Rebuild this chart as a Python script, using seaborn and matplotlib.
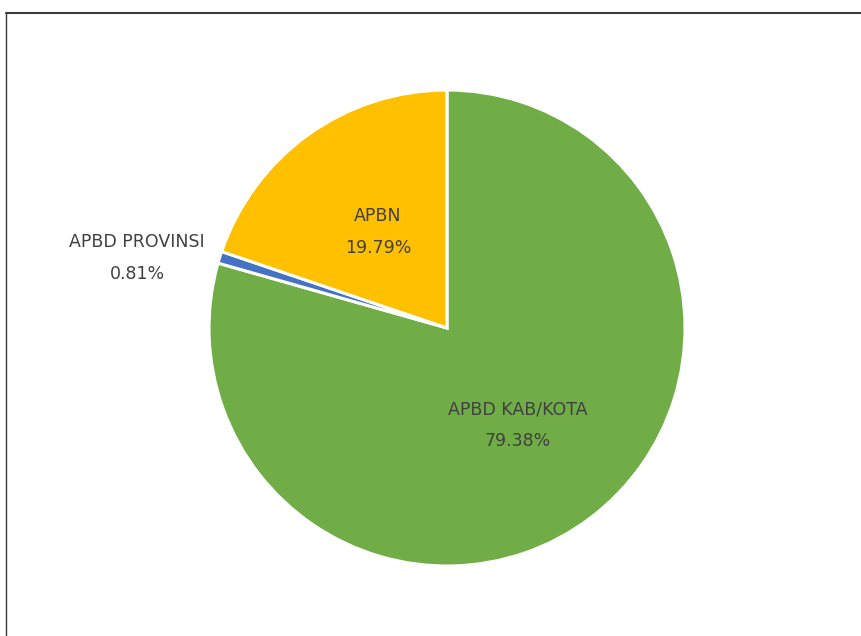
import matplotlib
matplotlib.use("Agg")
import matplotlib.pyplot as plt
import seaborn as sns

# data (clockwise from 12 o'clock)
sources = ["APBD KAB/KOTA", "APBD PROVINSI", "APBN"]
shares = [79.38, 0.81, 19.79]
colors = ["#70AD47", "#4472C4", "#FFC000"]

sns.set_theme(style="white")
plt.rcParams['font.family'] = ['DejaVu Sans']

W, H = 862, 636
fig = plt.figure(figsize=(W / 100, H / 100), dpi=100)
ax = fig.add_axes([0, 0, 1, 1])

cx, cy, r = 447, H - 328, 238
wedges, _ = ax.pie(shares, colors=colors, startangle=90, counterclock=False,
                   center=(cx, cy), radius=r, frame=True,
                   wedgeprops=dict(edgecolor='white', linewidth=2.2))
ax.set_xlim(0, W)
ax.set_ylim(0, H)
ax.set_aspect('equal')
ax.axis('off')

# data labels: name on one line, percent below (pixel offsets from pie centre)
label_pos = {
    sources[0]: (cx + 71, cy - 81),
    sources[1]: (137, H - 242),
    sources[2]: (cx - 69, cy + 112),
}
txt = dict(ha='center', va='center', fontsize=12.5, color='#404040')
for name, val in zip(sources, shares):
    x, y = label_pos[name]
    ax.text(x, y, name, **txt)
    ax.text(x, y - 32, f"{val:.2f}%", **txt)

# chart frame (top and left visible)
fig.add_artist(plt.Line2D([6 / W, 1], [1 - 13 / H, 1 - 13 / H], color='#3a3a3a', lw=1.5,
                          transform=fig.transFigure))
fig.add_artist(plt.Line2D([6 / W, 6 / W], [0, 1 - 13 / H], color='#3a3a3a', lw=1.0,
                          transform=fig.transFigure))

fig.savefig("out.png", dpi=100, facecolor='white')
